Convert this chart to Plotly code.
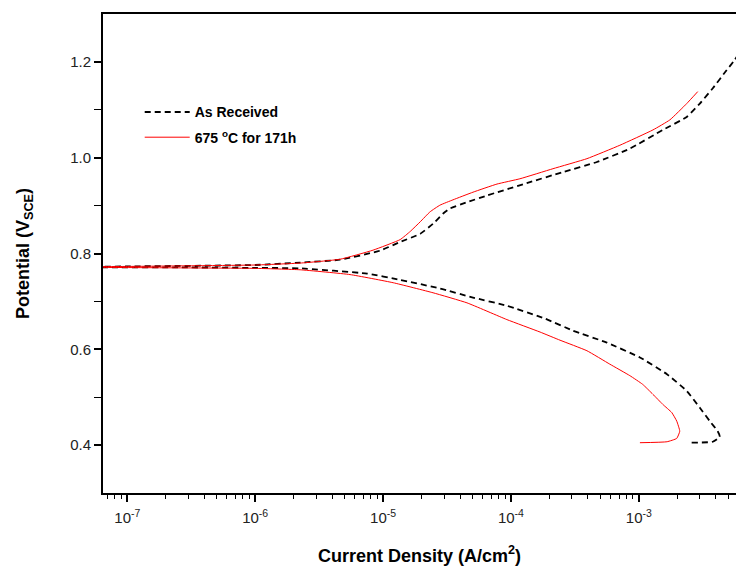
import plotly.graph_objects as go

# As Received: cathodic branch (from scan start) then anodic branch
ar_current = [2.59e-3, 3.79e-3, 4.30e-3, 4.14e-3, 3.59e-3, 3.00e-3, 2.37e-3, 1.66e-3, 1.02e-3, 5.62e-4,
              3.05e-4, 1.85e-4, 9.3e-5, 5.05e-5, 2.79e-5, 1.36e-5, 7.5e-6, 2.25e-6, 1.0e-6, 2.6e-7,
              6.5e-8, 4e-8,
              1.0e-7, 1.0e-6, 2.25e-6, 4.61e-6, 9.48e-6, 1.36e-5, 1.95e-5, 2.46e-5, 2.94e-5, 3.34e-5,
              4.53e-5, 6.49e-5, 1.33e-4, 2.55e-4, 4.70e-4, 8.51e-4, 1.54e-3, 2.37e-3, 3.00e-3, 3.79e-3,
              4.87e-3, 5.62e-3, 6.3e-3]
ar_potential = [0.405, 0.407, 0.417, 0.429, 0.450, 0.478, 0.513, 0.548, 0.583, 0.614,
                0.639, 0.664, 0.691, 0.708, 0.727, 0.745, 0.758, 0.769, 0.770, 0.771,
                0.771, 0.772,
                0.773, 0.776, 0.781, 0.787, 0.806, 0.824, 0.841, 0.862, 0.883, 0.894,
                0.907, 0.921, 0.947, 0.970, 0.991, 1.019, 1.058, 1.085, 1.113, 1.145,
                1.183, 1.204, 1.225]

# 675 C for 171h
ht_current = [1.02e-3, 1.66e-3, 1.98e-3, 2.09e-3, 1.98e-3, 1.81e-3, 1.54e-3, 1.29e-3, 1.07e-3, 8.51e-4,
              5.93e-4, 3.93e-4, 2.42e-4, 1.69e-4, 9.3e-5, 4.53e-5, 2.46e-5, 1.20e-5, 5.52e-6, 2.25e-6,
              1.0e-6, 2.6e-7, 6.5e-8, 4e-8,
              1.0e-7, 1.0e-6, 2.25e-6, 4.61e-6, 8.35e-6, 1.36e-5, 1.63e-5, 1.95e-5, 2.33e-5, 2.79e-5,
              3.52e-5, 5.05e-5, 7.78e-5, 1.175e-4, 2.13e-4, 3.93e-4, 7.11e-4, 1.29e-3, 1.75e-3, 2.37e-3,
              2.89e-3]
ht_potential = [0.405, 0.407, 0.414, 0.429, 0.450, 0.468, 0.485, 0.506, 0.527, 0.545,
                0.569, 0.597, 0.619, 0.636, 0.662, 0.697, 0.718, 0.739, 0.756, 0.766,
                0.769, 0.770, 0.771, 0.772,
                0.773, 0.776, 0.780, 0.788, 0.807, 0.829, 0.846, 0.866, 0.887, 0.901,
                0.912, 0.928, 0.945, 0.956, 0.977, 0.998, 1.026, 1.058, 1.079, 1.113,
                1.138]

x_tickvals = [1e-7, 1e-6, 1e-5, 1e-4, 1e-3]
x_ticktext = ["10<sup>-7</sup>", "10<sup>-6</sup>", "10<sup>-5</sup>", "10<sup>-4</sup>", "10<sup>-3</sup>"]
y_tickvals = [0.4, 0.6, 0.8, 1.0, 1.2]
y_ticktext = ["0.4", "0.6", "0.8", "1.0", "1.2"]

minor_x = [m * 10.0 ** e for e in range(-8, -1) for m in range(2, 10)]

FONT = "Liberation Sans, Arial, sans-serif"

fig = go.Figure()
fig.add_trace(go.Scatter(x=ar_current, y=ar_potential, mode="lines", name="<b>As Received</b>",
                         legendgroup="a",
                         line=dict(color="black", width=1.8, dash="6px,4px",
                                   shape="spline", smoothing=0.4)))
fig.add_trace(go.Scatter(x=ht_current, y=ht_potential, mode="lines",
                         name="<b>675 <sup>o</sup>C for 171h</b>", legendgroup="b",
                         line=dict(color="red", width=1, shape="spline", smoothing=0.4)))

fig.update_layout(
    width=736, height=567,
    margin=dict(l=103, r=0, t=14, b=74),
    paper_bgcolor="white", plot_bgcolor="white",
    font=dict(family=FONT, color="black"),
    showlegend=True,
    legend=dict(x=0.058, y=0.828, xanchor="left", yanchor="top",
                bgcolor="rgba(0,0,0,0)", font=dict(size=14, family=FONT, color="black"),
                itemwidth=45, traceorder="grouped", tracegroupgap=4),
    xaxis=dict(type="log", range=[-7.19, -2.24],
               tickmode="array", tickvals=x_tickvals, ticktext=x_ticktext,
               ticks="outside", ticklen=7, tickwidth=1.5, tickcolor="black",
               ticklabelstandoff=3,
               tickfont=dict(size=15, family=FONT, color="#222"),
               showline=True, linewidth=2, linecolor="black", mirror=True,
               showgrid=False, zeroline=False,
               minor=dict(tickmode="array", tickvals=minor_x, ticks="outside", ticklen=4,
                          tickwidth=1.2, tickcolor="black", showgrid=False),
               title=dict(text="<b>Current Density (A/cm<sup>2</sup>)</b>",
                          font=dict(size=18, family=FONT, color="black"), standoff=24)),
    yaxis=dict(range=[0.3, 1.3],
               tickmode="array", tickvals=y_tickvals, ticktext=y_ticktext,
               ticks="outside", ticklen=7, tickwidth=1.5, tickcolor="black",
               tickfont=dict(size=15, family=FONT, color="#222"),
               showline=True, linewidth=2, linecolor="black", mirror=False,
               showgrid=False, zeroline=False,
               minor=dict(tickmode="array", tickvals=[0.5, 0.7, 0.9, 1.1], ticks="outside",
                          ticklen=7, tickwidth=1.2, tickcolor="black", showgrid=False),
               title=dict(text="<b>Potential (V<sub>SCE</sub>)</b>",
                          font=dict(size=18, family=FONT, color="black"), standoff=36)),
)

fig.write_html("out.html")
